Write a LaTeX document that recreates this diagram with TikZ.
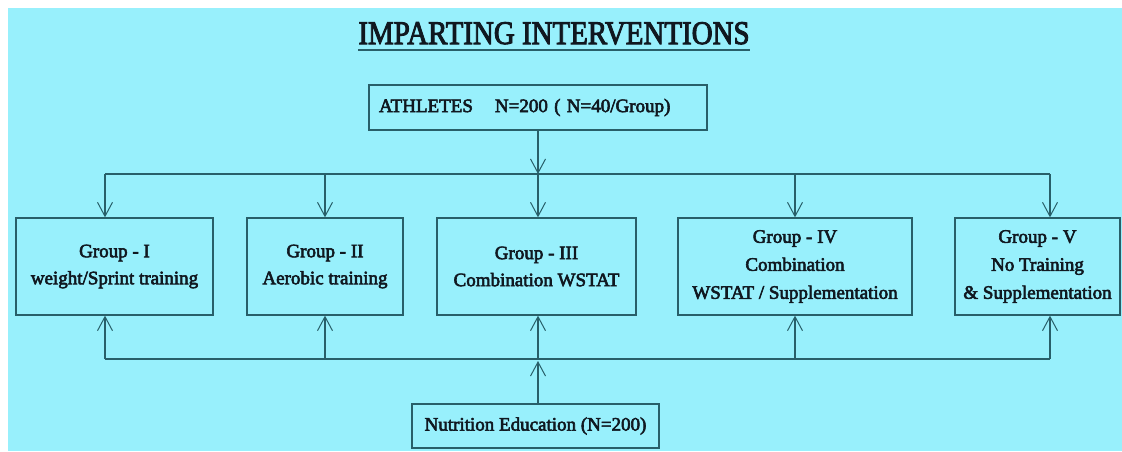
\documentclass[tikz,border=0pt]{standalone}
\usepackage{fontspec}
\setmainfont{Liberation Serif}[BoldFont={Liberation Serif}, BoldFeatures={FakeBold=3}]
\usetikzlibrary{arrows.meta}
\definecolor{bgcyan}{RGB}{152,240,252}
\definecolor{linecol}{RGB}{40,95,105}
\definecolor{txtcol}{RGB}{16,24,32}
\tikzset{
  box/.style={draw=linecol, line width=1.3pt, rectangle, inner sep=0pt,
    text=txtcol, align=center, font=\bfseries\fontsize{19}{27}\selectfont},
  conn/.style={draw=linecol, line width=1.3pt},
  arr/.style={conn, -{Straight Barb[length=14pt,width=15pt,line width=1pt]}},
}
\begin{document}
\begin{tikzpicture}[x=1pt,y=-1pt]
\useasboundingbox (0,0) rectangle (1122,451);
\fill[white] (0,0) rectangle (1122,451);
\fill[bgcyan] (8,8) rectangle (1122,451);

% title
\node[anchor=base, inner sep=0pt, text=txtcol, font=\bfseries\fontsize{33}{36}\selectfont] (title) at (554,44)
  {\scalebox{0.877}[1]{IMPARTING INTERVENTIONS}};
\draw[conn, line width=2pt] ([yshift=-6pt]title.base west) -- ([yshift=-6pt]title.base east);

% athletes
\node[box, minimum width=338pt, minimum height=45pt, text width=318pt, align=left] (ath) at (538,107.5)
  {ATHLETES\hspace{22pt}N=200 ( N=40/Group)};

% groups
\node[box, minimum width=197pt, minimum height=97pt] (g1) at (114.5,266.5) {Group - I\\weight/Sprint training};
\node[box, minimum width=156pt, minimum height=97pt] (g2) at (325,266.5) {Group - II\\Aerobic training};
\node[box, minimum width=199pt, minimum height=97pt] (g3) at (536.5,266.5) {Group - III\\Combination WSTAT};
\node[box, minimum width=234pt, minimum height=97pt, font=\bfseries\fontsize{19}{28}\selectfont] (g4) at (795,266.5) {Group - IV\\Combination\\WSTAT / Supplementation};
\node[box, minimum width=165pt, minimum height=97pt, font=\bfseries\fontsize{19}{28}\selectfont] (g5) at (1037.5,266.5) {Group - V\\No Training\\\& Supplementation};

% nutrition
\node[box, minimum width=247pt, minimum height=44pt] (nut) at (535.5,426) {Nutrition Education (N=200)};

% top bus
\coordinate (t1) at (105,174);
\coordinate (t2) at (325,174);
\coordinate (t3) at (538,174);
\coordinate (t4) at (795,174);
\coordinate (t5) at (1050,174);
\draw[conn] (t1) -- (t5);
\draw[arr] (ath.south -| t3) -- (t3);
\draw[arr] (t1) -- (t1 |- g1.north);
\draw[arr] (t2) -- (t2 |- g2.north);
\draw[arr] (t3) -- (t3 |- g3.north);
\draw[arr] (t4) -- (t4 |- g4.north);
\draw[arr] (t5) -- (t5 |- g5.north);

% bottom bus
\coordinate (b1) at (105,359);
\coordinate (b2) at (325,359);
\coordinate (b3) at (538,359);
\coordinate (b4) at (795,359);
\coordinate (b5) at (1050,359);
\draw[conn] (b1) -- (b5);
\draw[arr] (nut.north -| b3) -- ([yshift=-2pt]b3);
\draw[arr] (b1) -- (b1 |- g1.south);
\draw[arr] (b2) -- (b2 |- g2.south);
\draw[arr] (b3) -- (b3 |- g3.south);
\draw[arr] (b4) -- (b4 |- g4.south);
\draw[arr] (b5) -- (b5 |- g5.south);
\end{tikzpicture}
\end{document}
